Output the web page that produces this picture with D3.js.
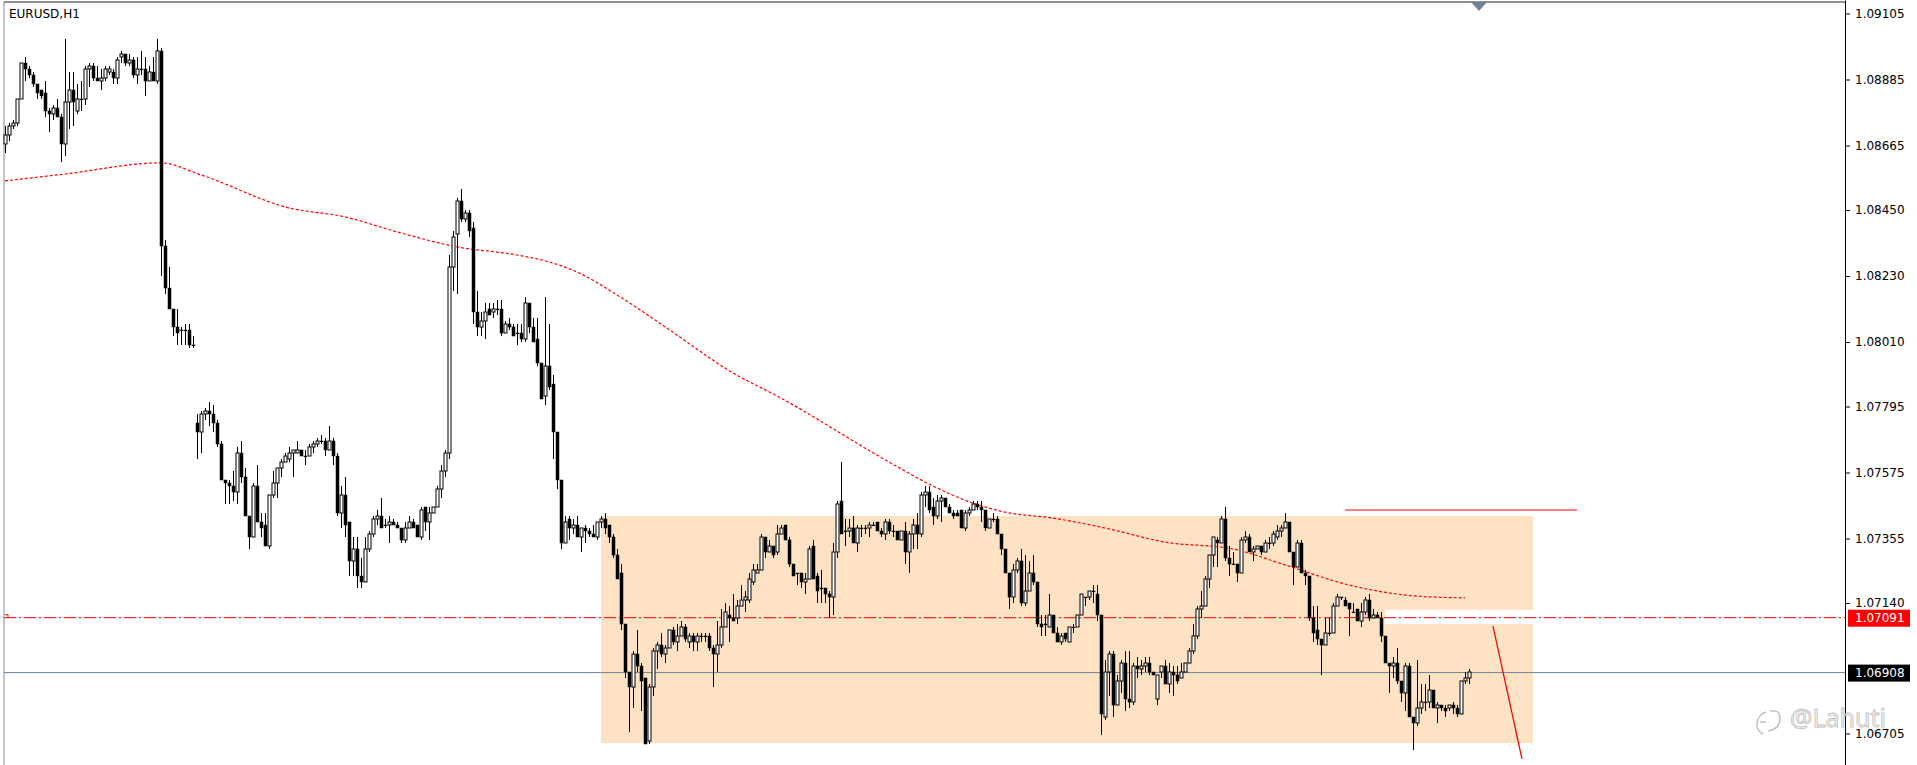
<!DOCTYPE html>
<html lang="en">
<head>
<meta charset="UTF-8">
<title>EURUSD,H1</title>
<script src="https://d3js.org/d3.v7.min.js"></script>
<style>
  body { margin: 0; background: #fff; }
  svg { display: block; }
</style>
</head>
<body>
<svg width="1917" height="765"></svg>
<script>
// Hourly candles, [open, close, high, low] in price x 10000
const candlesPips = [
[10867,10870,10873,10864],[10870,10873,10874,10868],[10873,10874,10875,10872],[10874,10882,10882,10873],
[10882,10894,10894,10882],[10894,10892,10896,10888],[10892,10890,10893,10889],[10890,10887,10891,10886],
[10887,10884,10887,10882],[10885,10883,10885,10882],[10884,10878,10888,10876],[10878,10877,10879,10871],
[10877,10879,10880,10875],[10879,10876,10882,10876],[10876,10867,10877,10861],[10867,10881,10902,10863],
[10881,10885,10891,10872],[10885,10881,10891,10873],[10878,10882,10887,10877],[10882,10882,10888,10878],
[10882,10892,10893,10880],[10892,10893,10894,10886],[10893,10889,10894,10888],[10889,10888,10893,10888],
[10888,10889,10892,10885],[10889,10892,10893,10888],[10891,10892,10893,10890],[10891,10889,10892,10887],
[10889,10895,10896,10887],[10896,10897,10898,10894],[10897,10894,10897,10893],[10894,10895,10897,10893],
[10895,10890,10896,10889],[10890,10892,10896,10887],[10892,10892,10898,10890],[10892,10888,10896,10883],
[10888,10891,10893,10888],[10891,10888,10896,10888],[10888,10898,10902,10887],[10898,10833,10899,10823],
[10833,10819,10835,10817],[10819,10812,10826,10812],[10812,10806,10812,10803],[10806,10804,10812,10800],
[10805,10805,10806,10800],[10805,10805,10807,10800],[10805,10800,10807,10799],[10800,10800,10803,10799],
[10774,10771,10777,10762],[10771,10777,10778,10764],[10777,10778,10779,10775],[10778,10777,10781,10773],
[10777,10774,10780,10771],[10774,10767,10775,10766],[10767,10755,10768,10755],[10755,10754,10755,10747],
[10754,10753,10755,10747],[10753,10751,10758,10748],[10751,10764,10766,10747],[10764,10756,10768,10754],
[10756,10743,10759,10743],[10743,10736,10743,10732],[10736,10753,10754,10736],[10753,10741,10760,10741],
[10741,10739,10744,10736],[10740,10733,10744,10733],[10733,10750,10750,10732],[10750,10754,10758,10749],
[10754,10759,10759,10749],[10759,10761,10762,10756],[10761,10763,10764,10761],[10762,10764,10766,10761],
[10764,10765,10765,10756],[10764,10765,10768,10764],[10765,10763,10765,10763],[10763,10763,10765,10760],
[10763,10766,10767,10763],[10766,10767,10768,10764],[10767,10768,10769,10766],[10768,10768,10770,10767],
[10768,10765,10769,10763],[10765,10768,10773,10765],[10768,10763,10769,10760],[10763,10744,10764,10743],
[10744,10750,10753,10739],[10750,10740,10756,10736],[10741,10728,10741,10723],[10728,10732,10736,10723],
[10732,10723,10736,10719],[10723,10721,10729,10719],[10721,10732,10736,10721],[10732,10737,10738,10731],
[10737,10742,10743,10736],[10742,10743,10745,10740],[10743,10739,10749,10739],[10740,10740,10742,10739],
[10740,10741,10743,10734],[10741,10740,10742,10740],[10740,10739,10741,10739],[10739,10735,10739,10734],
[10735,10739,10741,10734],[10739,10741,10743,10739],[10741,10739,10742,10739],[10740,10736,10740,10736],
[10736,10745,10746,10735],[10746,10741,10746,10738],[10741,10744,10746,10735],[10744,10746,10746,10744],
[10746,10752,10753,10746],[10752,10758,10760,10749],[10758,10764,10765,10756],[10764,10826,10830,10762],
[10826,10836,10838,10818],[10837,10848,10849,10817],
[10848,10842,10852,10841],[10842,10844,10845,10841],[10844,10838,10845,10836],[10839,10811,10841,10807],
[10811,10806,10818,10803],[10806,10808,10811,10803],[10808,10811,10814,10802],[10812,10810,10814,10810],
[10811,10812,10814,10809],[10812,10812,10815,10810],[10812,10804,10815,10803],[10804,10807,10808,10804],
[10807,10806,10809,10805],[10806,10803,10807,10803],[10804,10804,10807,10800],[10804,10802,10807,10801],
[10802,10814,10816,10801],[10814,10806,10814,10804],[10806,10801,10809,10801],[10802,10794,10809,10793],
[10794,10782,10794,10782],[10783,10793,10816,10780],[10793,10786,10807,10785],[10787,10771,10790,10762],
[10771,10755,10771,10752],[10755,10734,10755,10732],[10734,10741,10743,10734],[10742,10739,10743,10735],
[10739,10740,10742,10737],[10740,10736,10743,10736],[10736,10739,10739,10731],[10739,10738,10740,10734],
[10738,10737,10739,10736],[10737,10736,10740,10736],[10736,10741,10741,10735],[10741,10742,10743,10739],
[10742,10739,10744,10737],[10740,10736,10740,10734],[10736,10730,10737,10729],[10730,10722,10732,10722],
[10724,10707,10727,10705],[10707,10691,10707,10689],[10691,10686,10691,10671],[10686,10697,10698,10679],
[10697,10693,10705,10691],[10693,10688,10694,10678],[10689,10667,10689,10667],[10668,10686,10687,10667],
[10686,10698,10699,10683],[10698,10700,10701,10692],[10700,10697,10704,10696],[10697,10699,10700,10694],
[10699,10705,10705,10699],[10705,10701,10706,10700],[10701,10703,10707,10698],[10703,10706,10708,10703],
[10706,10702,10707,10701],[10701,10703,10704,10699],[10703,10701,10704,10698],[10701,10703,10704,10698],
[10703,10703,10704,10701],[10703,10703,10704,10701],[10703,10699,10704,10698],[10699,10697,10700,10686],
[10697,10700,10708,10691],[10700,10706,10712,10699],[10706,10711,10714,10706],[10710,10709,10713,10701],
[10709,10708,10717,10708],[10709,10713,10715,10707],[10713,10715,10720,10713],[10715,10716,10718,10711],
[10715,10722,10724,10714],[10721,10725,10727,10720],[10724,10725,10727,10724],[10725,10736,10737,10725],
[10736,10731,10736,10729],[10731,10733,10735,10731],[10733,10730,10733,10729],[10731,10737,10740,10730],
[10737,10739,10740,10737],[10740,10735,10740,10735],[10735,10727,10736,10726],[10727,10723,10727,10723],
[10724,10724,10724,10720],[10724,10721,10724,10719],[10721,10722,10724,10717],[10722,10732,10733,10722],
[10733,10722,10735,10722],[10723,10718,10724,10714],[10719,10719,10725,10714],[10719,10717,10719,10714],
[10717,10716,10718,10709],[10716,10731,10734,10710],[10731,10747,10748,10729],[10748,10737,10761,10737],
[10738,10738,10742,10733],[10738,10739,10742,10736],[10739,10734,10743,10734],[10734,10739,10740,10731],
[10739,10739,10740,10736],[10739,10739,10740,10737],[10739,10740,10741,10736],[10740,10740,10741,10740],
[10741,10738,10741,10738],[10738,10737,10739,10736],[10737,10741,10742,10735],[10741,10738,10742,10737],
[10738,10738,10740,10736],[10738,10735,10738,10735],[10735,10738,10738,10735],[10738,10731,10741,10727],
[10731,10737,10738,10724],[10737,10740,10742,10732],[10740,10737,10744,10732],[10737,10750,10751,10736],
[10750,10751,10753,10746],[10751,10745,10753,10744],[10746,10743,10749,10740],[10743,10748,10750,10742],
[10748,10749,10750,10741],[10749,10746,10749,10746],[10746,10744,10747,10744],[10744,10743,10745,10742],
[10744,10743,10745,10743],[10745,10739,10745,10739],[10739,10744,10745,10738],[10744,10745,10746,10743],
[10745,10747,10748,10745],[10747,10746,10748,10745],[10746,10745,10748,10741],[10745,10739,10745,10738],
[10739,10742,10742,10739],[10742,10742,10744,10741],[10742,10737,10743,10737],[10737,10732,10737,10730],
[10732,10724,10732,10724],[10724,10716,10724,10712],[10716,10725,10727,10714],[10725,10728,10729,10724],
[10728,10714,10732,10713],[10714,10718,10730,10713],[10718,10724,10728,10718],[10724,10721,10730,10720],
[10721,10707,10721,10706],[10707,10706,10710,10703],[10707,10707,10710,10703],[10706,10710,10717,10706],
[10710,10704,10710,10704],[10704,10701,10706,10701],[10701,10703,10704,10700],[10704,10702,10704,10701],
[10701,10706,10706,10701],[10706,10706,10707,10704],[10706,10710,10710,10706],[10710,10717,10717,10710],
[10716,10716,10716,10713],[10716,10718,10718,10715],[10718,10718,10720,10714],[10717,10710,10720,10708],
[10710,10677,10710,10670],
[10676,10691,10695,10675],[10691,10697,10698,10683],[10697,10680,10698,10676],[10680,10688,10690,10680],
[10688,10694,10695,10684],[10694,10682,10698,10678],[10682,10681,10698,10679],[10681,10693,10694,10680],
[10693,10692,10696,10689],[10692,10693,10695,10690],[10693,10694,10696,10691],[10694,10691,10696,10690],
[10691,10690,10691,10690],[10682,10690,10690,10680],[10691,10693,10693,10689],[10693,10687,10695,10687],
[10687,10691,10694,10684],[10691,10690,10693,10683],[10690,10688,10693,10687],[10689,10691,10694,10689],
[10691,10694,10694,10691],[10694,10698,10699,10694],[10698,10703,10707,10697],[10703,10712,10713,10702],
[10712,10713,10718,10709],[10713,10722,10723,10713],[10722,10730,10730,10719],[10730,10736,10736,10726],
[10735,10734,10736,10726],[10734,10742,10743,10734],[10742,10729,10746,10728],[10729,10727,10733,10723],
[10727,10727,10731,10727],[10727,10724,10727,10721],[10724,10735,10736,10724],[10735,10736,10738,10734],
[10736,10731,10737,10731],[10731,10732,10733,10728],[10732,10733,10733,10732],[10733,10731,10733,10730],
[10731,10734,10735,10731],[10734,10734,10736,10732],[10734,10737,10738,10733],[10736,10738,10740,10735],
[10738,10739,10740,10736],[10739,10741,10744,10739],[10741,10731,10741,10731],[10731,10726,10731,10720],
[10726,10734,10735,10726],[10734,10724,10735,10724],[10724,10723,10725,10720],[10723,10709,10723,10708],
[10709,10704,10713,10701],[10705,10702,10713,10700],[10702,10700,10702,10690],[10700,10704,10709,10700],
[10704,10704,10709,10703],[10704,10713,10714,10704],[10713,10716,10717,10713],[10716,10716,10716,10715],
[10715,10713,10716,10713],[10714,10712,10714,10703],
[10711,10711,10714,10711],[10712,10708,10712,10708],[10708,10711,10714,10706],[10711,10715,10716,10710],
[10715,10709,10717,10708],[10709,10710,10712,10709],[10710,10709,10711,10709],[10709,10703,10711,10701],
[10703,10694,10703,10694],[10694,10693,10694,10684],[10693,10694,10696,10689],[10694,10688,10699,10687],
[10688,10684,10688,10681],[10684,10693,10694,10678],[10693,10676,10694,10676],[10676,10674,10676,10665],
[10674,10679,10695,10673],[10679,10681,10687,10677],[10681,10681,10687,10678],[10681,10685,10690,10679],
[10685,10679,10685,10679],[10679,10680,10681,10674],[10680,10679,10680,10678],[10679,10678,10680,10676],
[10679,10680,10680,10678],[10680,10679,10681,10677],[10679,10677,10680,10676],[10677,10688,10688,10677],
[10688,10689,10691,10687],[10689,10691,10692,10687]
];

// moving average, sampled [candle index, price]
const maPoints = [
[0,1.08547],[15,1.08570],[39,1.08607],[49,1.08567],[71,1.08457],[85,1.08427],[98,1.08377],
[113,1.08327],[128,1.08300],[136,1.08277],[144,1.08237],[153,1.08167],[164,1.08070],[182,1.07907],
[194,1.07823],[221,1.07610],[232,1.07530],[242,1.07473],[250,1.07443],[262,1.07423],[275,1.07390],
[290,1.07343],[307,1.07320],[320,1.07267],[336,1.07200],[353,1.07163],[365,1.07157]
];

const tickValues = [1.09105, 1.08885, 1.08665, 1.08450, 1.08230, 1.08010, 1.07795, 1.07575, 1.07355, 1.07140, 1.06705];
const alertPrice = 1.07091;
const bidPrice = 1.06908;
// zone rectangle [fromIndex, toIndex, top, bottom]
const zone = [149, 382, 1.07430, 1.06673];
const zoneGap = [345, 382, 1.07117, 1.07070];
const resistance = [335, 393, 1.07450];
const arrowLine = [[372, 1.07063], [379.25, 1.06620]];

const W = 1917, H = 765, axisX = 1845;
const svg = d3.select("svg");
const candles = candlesPips.map(r => r.map(v => v / 10000));

const x = d3.scaleLinear().domain([0, 366]).range([5, 1469]);
const y = d3.scaleLinear().domain([1.0915, 1.0915 - H / 30000]).range([0, H]);

// zone
svg.append("rect")
   .attr("x", x(zone[0])).attr("y", y(zone[2]))
   .attr("width", x(zone[1]) - x(zone[0])).attr("height", y(zone[3]) - y(zone[2]))
   .attr("fill", "#fde3c4");
svg.append("rect")
   .attr("x", x(zoneGap[0])).attr("y", y(zoneGap[2]))
   .attr("width", x(zoneGap[1]) - x(zoneGap[0]) + 1).attr("height", y(zoneGap[3]) - y(zoneGap[2]))
   .attr("fill", "#fff");

// frame
svg.append("line").attr("x1", 4).attr("x2", 4).attr("y1", 2).attr("y2", H).attr("stroke", "#888");
svg.append("line").attr("x1", 4).attr("x2", axisX).attr("y1", 2).attr("y2", 2).attr("stroke", "#222");

// horizontal price lines
svg.append("line")
   .attr("x1", 4).attr("x2", axisX).attr("y1", y(alertPrice)).attr("y2", y(alertPrice))
   .attr("stroke", "#e00").attr("stroke-dasharray", "12,3,2,3");
svg.append("path")
   .attr("d", `M5,${y(alertPrice) - 3}h3v3`).attr("fill", "none").attr("stroke", "#e00");
svg.append("line")
   .attr("x1", 4).attr("x2", axisX).attr("y1", y(bidPrice)).attr("y2", y(bidPrice))
   .attr("stroke", "#6f8296").attr("stroke-width", 1);

// resistance and arrow
svg.append("line")
   .attr("x1", x(resistance[0])).attr("x2", x(resistance[1]))
   .attr("y1", y(resistance[2])).attr("y2", y(resistance[2]))
   .attr("stroke", "#e00");
svg.append("path")
   .attr("d", d3.line().x(d => x(d[0])).y(d => y(d[1]))(arrowLine))
   .attr("stroke", "#e00").attr("stroke-width", 1.2).attr("fill", "none");

// moving average
svg.append("path")
   .attr("d", d3.line().x(d => x(d[0])).y(d => y(d[1])).curve(d3.curveMonotoneX)(maPoints))
   .attr("fill", "none").attr("stroke", "#f00").attr("stroke-width", 1.2).attr("stroke-dasharray", "3,2");

// candles
const g = svg.append("g");
candles.forEach((c, i) => {
  const [o, cl, hi, lo] = c;
  const cx = Math.round(x(i)) + 0.5;
  g.append("line").attr("x1", cx).attr("x2", cx)
   .attr("y1", y(Math.max(hi, o, cl))).attr("y2", y(Math.min(lo, o, cl)))
   .attr("stroke", "#000").attr("stroke-width", 1);
  const top = y(Math.max(o, cl)), bot = y(Math.min(o, cl));
  const bull = cl > o;
  g.append("rect")
   .attr("x", cx - 1.5).attr("y", top)
   .attr("width", 3).attr("height", Math.max(0.8, bot - top))
   .attr("fill", bull ? "#fff" : "#000")
   .attr("stroke", "#000").attr("stroke-width", bull ? 1 : 0.5);
});

// right axis
svg.append("g")
   .attr("transform", `translate(${axisX},0)`)
   .call(d3.axisRight(y).tickValues(tickValues).tickFormat(d3.format(".5f")).tickSize(5).tickSizeOuter(0))
   .call(a => a.select(".domain").attr("stroke", "#000"))
   .call(a => a.selectAll("text").attr("font-family", "DejaVu Sans").attr("font-size", 12).attr("fill", "#000").attr("x", 10));

function priceTag(p, bg) {
  const ty = y(p);
  svg.append("rect").attr("x", axisX + 3).attr("y", ty - 8).attr("width", 62).attr("height", 17).attr("fill", bg);
  svg.append("text").attr("x", axisX + 10).attr("y", ty + 4.5)
     .attr("font-family", "DejaVu Sans").attr("font-size", 12).attr("fill", "#fff")
     .text(d3.format(".5f")(p));
}
priceTag(alertPrice, "#ff0000");
priceTag(bidPrice, "#000");

// marker on top
svg.append("path").attr("d", `M${x(366) + 2},2l16,0l-8,9z`).attr("fill", "#6f8296");

// title
svg.append("text").attr("x", 9).attr("y", 18)
   .attr("font-family", "DejaVu Sans").attr("font-size", 12).attr("fill", "#000")
   .text("EURUSD,H1");

// watermark
const wm = svg.append("g").attr("opacity", 0.8);
wm.append("path")
  .attr("d", "M1766,712 q-8,2 -9,12 q-1,6 6,10 M1770,711 q10,-2 10,8 q0,10 -12,12 M1760,722 h6")
  .attr("fill", "none").attr("stroke", "#b0b0b0").attr("stroke-width", 1.5);
wm.append("text").attr("x", 1790).attr("y", 727)
  .attr("font-family", "Noto Sans").attr("font-size", 25).attr("fill", "#f4f4f4")
  .attr("stroke", "#b4b4b4").attr("stroke-width", 0.9).text("@Lahuti");
</script>
</body>
</html>
